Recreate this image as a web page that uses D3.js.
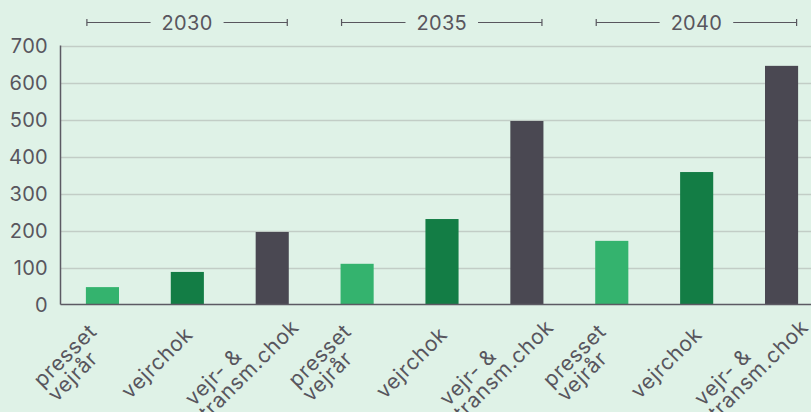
<!DOCTYPE html>
<html>
<head>
<meta charset="utf-8">
<script src="https://cdn.jsdelivr.net/npm/d3@7"></script>
<style>
  html, body { margin: 0; padding: 0; background: #dff2e7; }
  svg { display: block; }
  text { font-family: "Inter", "Noto Sans", sans-serif; fill: #58565e; }
</style>
</head>
<body>
<svg id="chart" width="811" height="412"></svg>
<script>
// ---- data ----
const groups = ["2030", "2035", "2040"];
const scenarios = ["presset vejrår", "vejrchok", "vejr- & transm.chok"];
const scenarioLines = [["presset", "vejrår"], ["vejrchok"], ["vejr- &", "transm.chok"]];
const values2030 = [47, 88, 196];
const values2035 = [110, 231, 496];
const values2040 = [172, 358, 645];
const yTicks = [0, 100, 200, 300, 400, 500, 600, 700];
const colors = ["#34b36e", "#137d45", "#4a4852"];

const seriesByGroup = [values2030, values2035, values2040];
const rows = [];
groups.forEach((g, gi) => {
  scenarios.forEach((s, si) => {
    rows.push({ key: g + "|" + s, group: g, si, lines: scenarioLines[si], value: seriesByGroup[gi][si] });
  });
});

const svg = d3.select("#chart");
const axisY0 = 304.5, axisY1 = 45.5, axisX = 60.5;

const y = d3.scaleLinear().domain([0, 700]).range([axisY0, axisY1]);
const x = d3.scaleBand().domain(rows.map(d => d.key)).range([60, 824]).paddingInner(0.61).paddingOuter(0.305);

// gridlines
svg.append("g").selectAll("line").data(yTicks.filter(t => t > 0)).join("line")
  .attr("x1", axisX).attr("x2", 811)
  .attr("y1", d => Math.round(y(d)) + 0.5).attr("y2", d => Math.round(y(d)) + 0.5)
  .attr("stroke", "#c2cdc6").attr("stroke-width", 1.6);

// bars
svg.append("g").selectAll("rect").data(rows).join("rect")
  .attr("x", d => x(d.key)).attr("width", x.bandwidth())
  .attr("y", d => y(d.value)).attr("height", d => axisY0 - y(d.value))
  .attr("fill", d => colors[d.si]);

// axes lines
svg.append("line").attr("x1", axisX).attr("x2", axisX).attr("y1", axisY1).attr("y2", axisY0)
  .attr("stroke", "#5c5a63").attr("stroke-width", 1.5);
svg.append("line").attr("x1", axisX).attr("x2", 811).attr("y1", axisY0).attr("y2", axisY0)
  .attr("stroke", "#5c5a63").attr("stroke-width", 1.5);

// y tick labels
svg.append("g").selectAll("text").data(yTicks).join("text")
  .attr("x", 48).attr("y", d => y(d))
  .attr("dy", "0.36em")
  .attr("text-anchor", "end")
  .style("font-size", "20px")
  .style("letter-spacing", "0.3px")
  .text(d => d);

// x labels (rotated about block centre, multi-line, left aligned within block)
const lh = 20;
const xl = svg.append("g").selectAll("g").data(rows).join("g")
  .attr("transform", d => {
    const cx = x(d.key) + x.bandwidth() / 2 - 29.5;
    const cy = axisY0 + 59;
    return `translate(${cx},${cy}) rotate(-45)`;
  });
xl.each(function(d) {
  const t = d3.select(this).append("text").style("font-size", "21px").style("letter-spacing", "0.7px");
  const n = d.lines.length;
  const spans = d.lines.map((ln, i) => t.append("tspan").attr("y", (i - (n - 1) / 2) * lh + 6).text(ln));
  const w = d3.max(spans, s => s.node().getComputedTextLength());
  spans.forEach(s => s.attr("x", -w / 2));
});

// group brackets
groups.forEach((g, gi) => {
  const first = rows[gi * 3], last = rows[gi * 3 + 2];
  const x0 = x(first.key) + 1, x1 = x(last.key) + x.bandwidth() - 1.5;
  const mid = (x0 + x1) / 2;
  const by = 22.5;
  const gg = svg.append("g");
  const txt = gg.append("text").attr("x", mid).attr("y", 30).attr("text-anchor", "middle")
    .style("font-size", "20px").style("letter-spacing", "0.3px").text(g);
  const tw = txt.node().getComputedTextLength();
  const gap = 11;
  gg.append("line").attr("x1", x0).attr("x2", mid - tw / 2 - gap).attr("y1", by).attr("y2", by)
    .attr("stroke", "#58565e").attr("stroke-width", 1.2);
  gg.append("line").attr("x1", mid + tw / 2 + gap).attr("x2", x1).attr("y1", by).attr("y2", by)
    .attr("stroke", "#58565e").attr("stroke-width", 1.2);
  [x0, x1].forEach(xx => gg.append("line").attr("x1", xx).attr("x2", xx).attr("y1", by - 3.5).attr("y2", by + 3.5)
    .attr("stroke", "#58565e").attr("stroke-width", 1.2));
});
</script>
</body>
</html>
